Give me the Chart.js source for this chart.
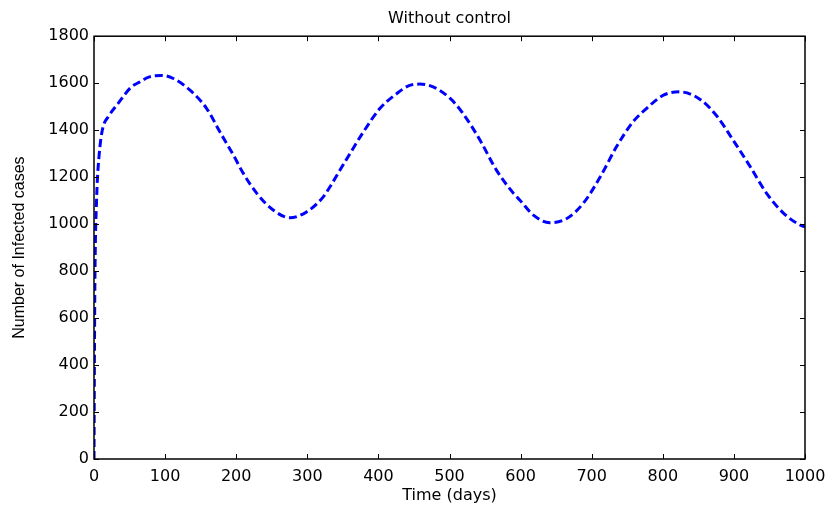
<!DOCTYPE html>
<html>
<head>
<meta charset="utf-8">
<script src="https://cdn.jsdelivr.net/npm/chart.js@4.4.0/dist/chart.umd.min.js"></script>
<style>
  html, body { margin: 0; padding: 0; background: #fff; }
  #wrap { width: 830px; height: 506px; }
</style>
</head>
<body>
<div id="wrap"><canvas id="chart"></canvas></div>
<script>
// values
const timeDays = [0, 0.5, 1, 2, 3.3, 4.7, 7, 9.4, 12.7, 20, 34, 52.5, 65, 76, 95, 111.5, 135, 158.5, 177, 196, 210, 229, 252, 275.5, 299, 322.5, 332, 346, 355, 379, 402, 426, 444, 458, 477, 501, 519, 543, 566, 590, 599, 618, 641, 665, 688, 712, 735, 758, 777, 801, 824, 852, 876, 899, 923, 946, 970, 993, 1000];
const infectedCases = [0, 350, 650, 930, 1074, 1187, 1286, 1357, 1414, 1457, 1514, 1584, 1606, 1625, 1633, 1620, 1570, 1492, 1393, 1294, 1216, 1131, 1060, 1027, 1052, 1116, 1159, 1230, 1275, 1393, 1492, 1556, 1591, 1596, 1584, 1535, 1471, 1357, 1230, 1131, 1102, 1038, 1006, 1024, 1088, 1201, 1330, 1435, 1492, 1549, 1563, 1532, 1460, 1357, 1244, 1131, 1046, 996, 988];
const xTicks = [0, 100, 200, 300, 400, 500, 600, 700, 800, 900, 1000];
const yTicks = [0, 200, 400, 600, 800, 1000, 1200, 1400, 1600, 1800];

const FONT = "'DejaVu Sans', sans-serif";

// matlab style box with inward tick marks
const boxTicks = {
  id: "boxTicks",
  afterDraw(chart) {
    const { ctx, chartArea: a, scales } = chart;
    ctx.save();
    ctx.strokeStyle = "#000";
    ctx.lineWidth = 1;
    const len = 5;
    ctx.beginPath();
    xTicks.forEach((v) => {
      const px = Math.round(scales.x.getPixelForValue(v)) + 0.5;
      ctx.moveTo(px, a.bottom); ctx.lineTo(px, a.bottom - len);
      ctx.moveTo(px, a.top); ctx.lineTo(px, a.top + len);
    });
    yTicks.forEach((v) => {
      const py = Math.round(scales.y.getPixelForValue(v)) + 0.5;
      ctx.moveTo(a.left, py); ctx.lineTo(a.left + len, py);
      ctx.moveTo(a.right, py); ctx.lineTo(a.right - len, py);
    });
    ctx.stroke();
    ctx.lineWidth = 1.5;
    ctx.strokeRect(a.left, a.top, a.right - a.left, a.bottom - a.top);
    ctx.restore();
  },
};

const points = timeDays.map((t, i) => ({ x: t, y: infectedCases[i] }));

new Chart(document.getElementById("chart"), {
  type: "line",
  data: {
    datasets: [{
      data: points,
      borderColor: "#0000ff",
      borderWidth: 3,
      borderDash: [8, 4],
      pointRadius: 0,
      fill: false,
      cubicInterpolationMode: "monotone",
    }],
  },
  options: {
    responsive: true,
    maintainAspectRatio: false,
    animation: false,
    layout: { padding: { left: 0, right: 25, top: 0, bottom: 0 } },
    plugins: {
      legend: { display: false },
      tooltip: { enabled: false },
      title: {
        display: true,
        fullSize: false,
        text: "Without control",
        color: "#000",
        font: { family: FONT, size: 16, weight: "normal" },
        padding: { top: 9, bottom: 8 },
      },
    },
    scales: {
      x: {
        type: "linear",
        min: 0,
        max: 1000,
        afterBuildTicks: (s) => { s.ticks = xTicks.map((v) => ({ value: v })); },
        afterFit: (s) => { s.height = 47; s.paddingLeft = 0; s.paddingRight = 0; },
        grid: { display: false, drawTicks: false },
        border: { display: false },
        ticks: { color: "#000", font: { family: FONT, size: 16 }, padding: 8, maxRotation: 0, callback: (v) => String(v) },
        title: { display: true, text: "Time (days)", color: "#000", font: { family: FONT, size: 16 }, padding: { top: 0, bottom: 1 } },
      },
      y: {
        min: 0,
        max: 1800,
        afterBuildTicks: (s) => { s.ticks = yTicks.map((v) => ({ value: v })); },
        afterFit: (s) => { s.width = 94; },
        grid: { display: false, drawTicks: false },
        border: { display: false },
        ticks: { color: "#000", font: { family: FONT, size: 16 }, padding: 5, callback: (v) => String(v) },
        title: { display: true, text: "Number of Infected cases", color: "#000", font: { family: "'Liberation Sans', Arial, sans-serif", size: 16 }, padding: { top: 10, bottom: 0 } },
      },
    },
  },
  plugins: [boxTicks],
});
</script>
</body>
</html>
